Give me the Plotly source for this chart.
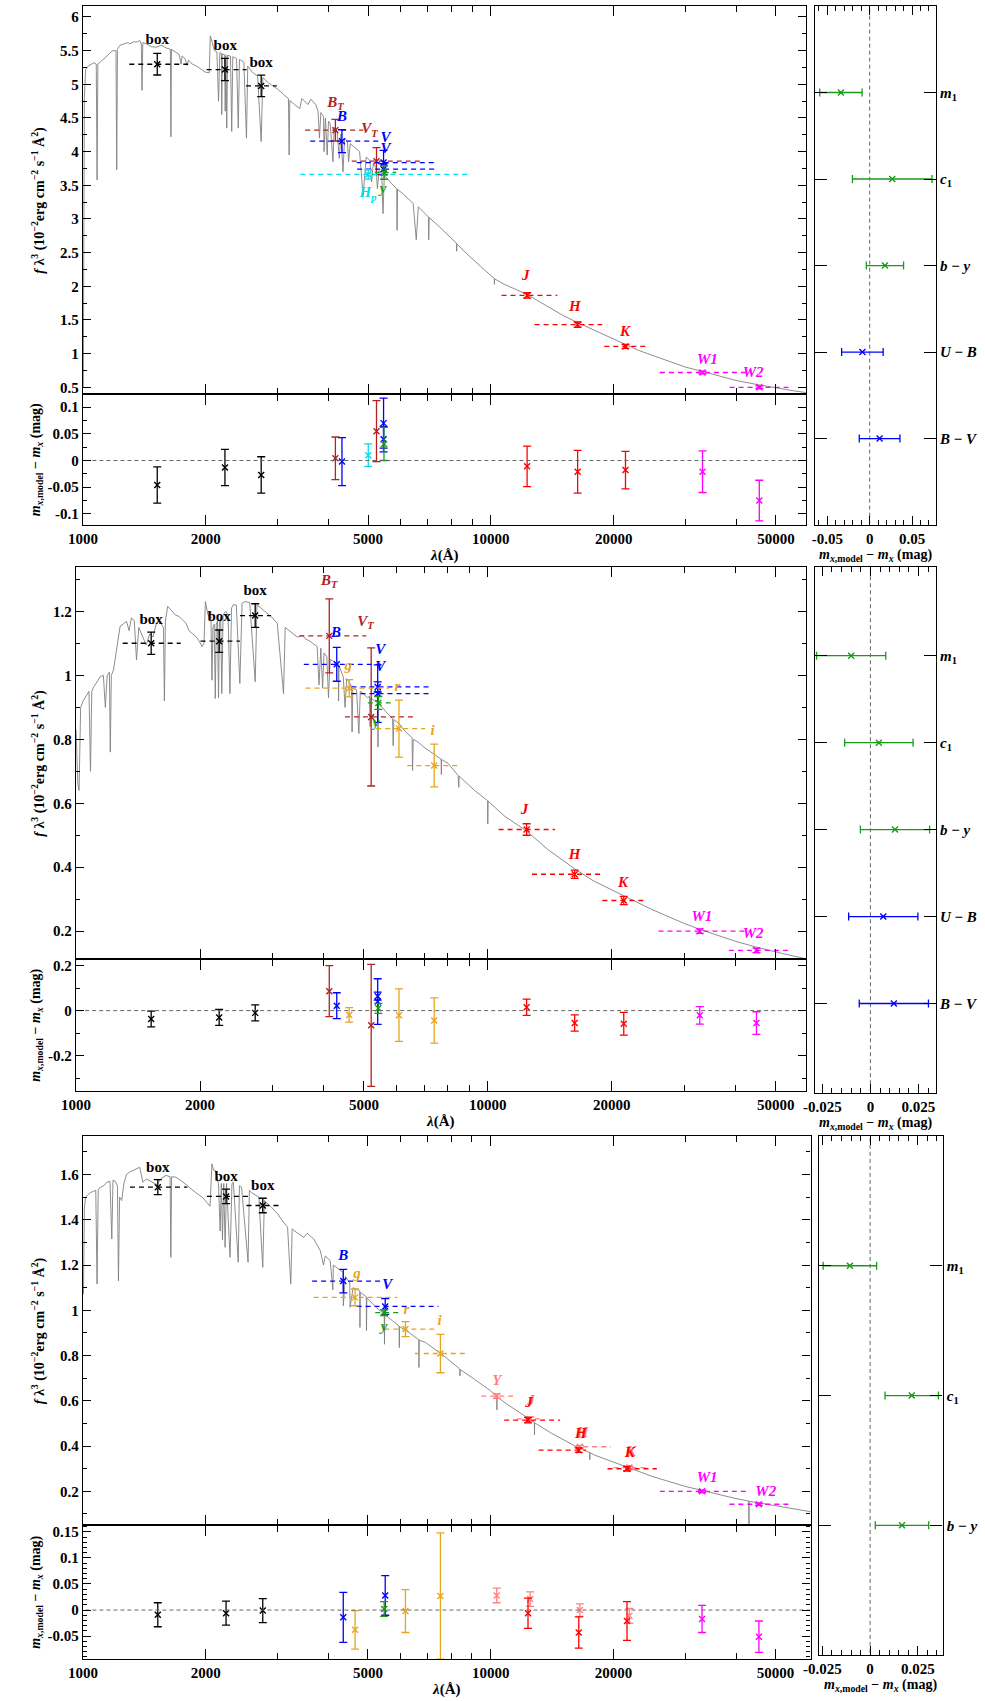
import plotly.graph_objects as go

# ===================== DATA =====================
# ---- Panel 1: model spectrum (wavelength in Angstrom, f*lambda^3) ----
wl1 = [
    1002, 1008, 1015, 1034, 1050, 1063, 1078, 1083, 1088, 1103,
    1130, 1145, 1166, 1185, 1205, 1210, 1215, 1233, 1260, 1290,
    1303, 1330, 1360, 1378, 1390, 1396, 1402, 1430, 1470, 1511,
    1560, 1600, 1638, 1643, 1648, 1690, 1722, 1740, 1750, 1780,
    1800, 1815, 1853, 1900, 1950, 1996, 2040, 2052, 2075, 2100,
    2130, 2150, 2165, 2185, 2189, 2196, 2225, 2232, 2242, 2252,
    2262, 2300, 2316, 2330, 2380, 2403, 2420, 2480, 2517, 2535,
    2600, 2680, 2735, 2760, 2850, 2930, 2999, 3100, 3190, 3202,
    3215, 3300, 3400, 3440, 3500, 3560, 3620, 3679, 3720, 3770,
    3800, 3830, 3889, 3900, 3930, 3970, 4000, 4036, 4102, 4130,
    4200, 4250, 4290, 4340, 4380, 4450, 4480, 4520, 4600, 4700,
    4766, 4861, 4950, 5050, 5100, 5150, 5233, 5270, 5320, 5400,
    5440, 5480, 5532, 5700, 5878, 5890, 5905, 6100, 6295, 6450,
    6563, 6640, 6900, 7030, 7040, 7060, 7400, 7580, 7800, 8000,
    8238, 8245, 8260, 8600, 9121, 9500, 10000, 10195, 10200, 10220,
    10780, 11500, 12270, 13000, 14000, 15000, 16320, 17000, 18000, 19500,
    21380, 23000, 25000, 28000, 30000, 33030, 36000, 40000, 45510, 50000,
    55000, 59500]
fl1 = [
    0.5, 4.8, 5.22, 5.28, 5.3, 5.32, 5.3, 3.58, 5.3, 5.33,
    5.38, 5.42, 5.47, 5.5, 5.5, 3.73, 5.52, 5.58, 5.6, 5.62,
    5.6, 5.63, 5.63, 5.65, 5.6, 4.91, 5.62, 5.6, 5.56, 5.55,
    5.58, 5.54, 5.52, 4.22, 5.52, 5.48, 5.44, 5.3, 5.42, 5.38,
    5.28, 5.36, 5.3, 5.27, 5.22, 5.18, 5.17, 5.72, 5.62, 5.5,
    5.48, 4.75, 5.47, 5.46, 4.55, 5.45, 5.44, 4.6, 5.43, 4.35,
    5.43, 5.42, 4.3, 5.41, 5.38, 4.35, 5.37, 5.33, 4.2, 5.27,
    5.18, 5.12, 4.15, 5.1, 5.02, 4.97, 4.93, 4.85, 4.79, 3.95,
    4.76, 4.7, 4.64, 4.79, 4.74, 4.7, 4.78, 4.74, 4.7, 4.6,
    4.2, 4.58, 4.52, 4.0, 4.5, 3.95, 4.45, 4.42, 3.85, 4.36,
    4.3, 3.9, 4.26, 3.7, 4.2, 4.15, 3.85, 4.12, 4.08, 4.03,
    4.0, 3.35, 3.92, 3.87, 3.55, 3.82, 3.76, 3.45, 3.72, 3.67,
    3.08, 3.64, 3.62, 3.53, 3.45, 2.83, 3.44, 3.37, 3.29, 3.23,
    2.69, 3.18, 3.08, 3.03, 2.69, 3.02, 2.91, 2.85, 2.78, 2.72,
    2.64, 2.52, 2.63, 2.52, 2.37, 2.28, 2.16, 2.12, 2.03, 2.11,
    2.03, 1.96, 1.88, 1.79, 1.67, 1.57, 1.46, 1.41, 1.34, 1.24,
    1.13, 1.05, 0.97, 0.86, 0.8, 0.735, 0.675, 0.6, 0.535, 0.49,
    0.45, 0.42]

# ---- Panel 1: photometry ----
sys1 = ['box', 'box', 'box', 'Tycho', 'Johnson', 'Hipparcos', 'Tycho', 'Johnson', 'Johnson',
        'Stromgren', '2MASS', '2MASS', '2MASS', 'WISE', 'WISE']
lam1 = [1521, 2229, 2735, 4158, 4315, 5005, 5244, 5457, 5457, 5470, 12270, 16320, 21380, 33030, 45510]
flux1 = [5.298, 5.219, 4.976, 4.318, 4.155, 3.661, 3.859, 3.838, 3.740, 3.690, 1.864, 1.430, 1.107, 0.720, 0.500]
ferr1 = [0.16, 0.165, 0.16, 0.16, 0.17, 0.07, 0.20, 0.18, 0.08, 0.10, 0.04, 0.04, 0.03, 0.02, 0.02]
wlo1 = [1299, 2010, 2510, 3505, 3607, 3410, 4560, 4690, 4700, 5190, 10620, 12800, 18970, 25960, 38480]
whi1 = [1811, 2518, 2987, 4865, 5410, 8810, 6730, 7280, 7280, 5860, 14550, 18750, 23990, 43370, 54810]
res1 = [-0.046, -0.013, -0.027, 0.004, -0.002, 0.010, 0.055, 0.070, 0.040, 0.031, -0.011, -0.021, -0.018, -0.021, -0.075]
reserr1 = [0.034, 0.034, 0.034, 0.040, 0.045, 0.021, 0.057, 0.047, 0.024, 0.031, 0.038, 0.040, 0.035, 0.039, 0.038]
lbtxt1 = ['box', 'box', 'box', 'BT', 'B', 'VT', 'V', 'V', 'Hp', 'y', 'J', 'H', 'K', 'W1', 'W2']
lbsys1 = ['box', 'box', 'box', 'Tycho', 'Johnson', 'Tycho', 'Johnson', 'Johnson', 'Hipparcos', 'Stromgren',
          '2MASS', '2MASS', '2MASS', 'WISE', 'WISE']
lbx1 = [1521, 2233, 2734, 4158, 4315, 5042, 5521, 5521, 5000, 5440, 12170, 16060, 21320, 33950, 43950]
lby1 = [5.654, 5.565, 5.31, 4.715, 4.517, 4.325, 4.206, 4.028, 3.376, 3.435, 2.153, 1.686, 1.316, 0.90, 0.707]
# colour residuals panel 1
cname1 = ['B−V', 'U−B', 'b−y', 'c1', 'm1']
csys1 = ['Johnson', 'Johnson', 'Stromgren', 'Stromgren', 'Stromgren']
cval1 = [0.0117, -0.0086, 0.018, 0.0266, -0.034]
cerr1 = [0.024, 0.0245, 0.022, 0.047, 0.025]

# ---- Panel 2: model spectrum ----
wl2 = [
    1000, 1010, 1017, 1022, 1026, 1040, 1055, 1075, 1084, 1092,
    1104, 1125, 1145, 1165, 1178, 1190, 1205, 1211, 1218, 1233,
    1255, 1279, 1300, 1326, 1345, 1363, 1385, 1402, 1420, 1454,
    1480, 1510, 1537, 1565, 1594, 1630, 1639, 1648, 1669, 1700,
    1740, 1780, 1820, 1850, 1880, 1915, 1960, 1995, 2023, 2045,
    2061, 2090, 2110, 2125, 2138, 2150, 2165, 2178, 2190, 2205,
    2218, 2230, 2245, 2259, 2275, 2310, 2340, 2364, 2385, 2409,
    2450, 2499, 2530, 2568, 2640, 2723, 2750, 2815, 2900, 2976,
    3080, 3190, 3220, 3300, 3444, 3550, 3600, 3707, 3850, 3890,
    3930, 3970, 4000, 4063, 4102, 4140, 4200, 4334, 4340, 4350,
    4455, 4500, 4540, 4600, 4665, 4680, 4700, 4800, 4861, 4900,
    4973, 5100, 5159, 5175, 5200, 5300, 5401, 5410, 5420, 5655,
    5870, 5890, 5910, 6083, 6300, 6547, 6563, 6590, 6792, 7000,
    7447, 7700, 7710, 7720, 8000, 8467, 8500, 8520, 9284, 9989,
    9995, 10010, 10950, 12420, 14000, 16250, 18000, 21380, 25000, 30000,
    33000, 40000, 45500, 52000, 59500]
fl2 = [
    0.83, 0.66, 0.64, 0.86, 0.9, 0.92, 0.933, 0.95, 0.70, 0.95,
    0.964, 0.98, 0.996, 1.0, 0.9, 1.0, 1.01, 0.76, 1.0, 1.017,
    1.09, 1.153, 1.16, 1.169, 1.14, 1.18, 1.17, 1.048, 1.15, 1.12,
    1.095, 1.13, 1.12, 1.16, 1.17, 1.15, 0.92, 1.17, 1.216, 1.205,
    1.19, 1.184, 1.17, 1.163, 1.14, 1.132, 1.12, 1.105, 1.09, 1.1,
    1.231, 1.19, 1.18, 1.2, 0.985, 1.15, 1.16, 0.928, 1.16, 1.17,
    0.93, 1.17, 1.18, 0.943, 1.19, 1.2, 1.19, 0.943, 1.21, 1.221,
    1.22, 0.975, 1.225, 1.231, 1.228, 0.98, 1.22, 1.21, 1.195, 1.184,
    1.163, 0.943, 1.15, 1.14, 1.12, 1.125, 1.115, 1.106, 1.09, 0.97,
    1.085, 0.96, 1.07, 1.059, 0.93, 1.05, 1.045, 1.035, 0.92, 1.03,
    0.996, 0.9, 0.99, 0.98, 0.964, 0.823, 0.96, 0.955, 0.818, 0.95,
    0.945, 0.93, 0.935, 0.84, 0.93, 0.92, 0.917, 0.776, 0.915, 0.886,
    0.865, 0.78, 0.862, 0.849, 0.825, 0.805, 0.703, 0.8, 0.79, 0.775,
    0.75, 0.738, 0.69, 0.737, 0.725, 0.687, 0.65, 0.685, 0.64, 0.608,
    0.535, 0.607, 0.561, 0.513, 0.455, 0.395, 0.358, 0.31, 0.268, 0.224,
    0.204, 0.168, 0.148, 0.13, 0.113]

# ---- Panel 2: photometry ----
sys2 = ['box', 'box', 'box', 'Tycho', 'Johnson', 'SDSS', 'Tycho', 'Johnson', 'Johnson', 'Stromgren',
        'SDSS', 'SDSS', '2MASS', '2MASS', '2MASS', 'WISE', 'WISE']
lam2 = [1522, 2226, 2723, 4120, 4296, 4605, 5208, 5401, 5401, 5420, 6083, 7408, 12420, 16250, 21380, 32700, 44900]
flux2 = [1.1005, 1.107, 1.187, 1.1236, 1.0346, 0.960, 0.870, 0.943, 0.964, 0.914, 0.8335, 0.718,
         0.518, 0.378, 0.296, 0.200, 0.140]
ferr2 = [0.035, 0.035, 0.037, 0.116, 0.053, 0.027, 0.216, 0.090, 0.016, 0.020, 0.089, 0.067,
         0.018, 0.013, 0.013, 0.007, 0.007]
wlo2 = [1298, 2005, 2500, 3485, 3573, 3606, 4497, 4665, 4665, 5112, 5354, 6373, 10620, 12800, 18970, 25960, 38480]
whi2 = [1795, 2500, 2976, 5070, 5499, 5757, 6673, 7241, 7241, 5810, 7046, 8468, 14550, 18750, 23990, 43370, 54810]
res2 = [-0.037, -0.030, -0.010, 0.086, 0.022, -0.019, -0.065, 0.040, 0.064, 0.010, -0.020, -0.044,
        0.015, -0.055, -0.058, -0.021, -0.055]
reserr2 = [0.035, 0.035, 0.035, 0.113, 0.057, 0.032, 0.270, 0.101, 0.018, 0.022, 0.116, 0.100,
           0.036, 0.036, 0.050, 0.039, 0.050]
lbtxt2 = ['box', 'box', 'box', 'BT', 'B', 'g', 'VT', 'V', 'V', 'y', 'r', 'i', 'J', 'H', 'K', 'W1', 'W2']
lbsys2 = ['box', 'box', 'box', 'Tycho', 'Johnson', 'SDSS', 'Tycho', 'Johnson', 'Johnson', 'Stromgren',
          'SDSS', 'SDSS', '2MASS', '2MASS', '2MASS', 'WISE', 'WISE']
lbx2 = [1522, 2226, 2723, 4120, 4279, 4580, 5047, 5482, 5482, 5354, 6031, 7339, 12280, 16250, 21290, 33080, 44060]
lby2 = [1.174, 1.182, 1.263, 1.294, 1.132, 1.029, 1.166, 1.080, 1.027, 0.850, 0.962, 0.826,
        0.579, 0.436, 0.351, 0.245, 0.190]
cname2 = ['B−V', 'U−B', 'b−y', 'c1', 'm1']
csys2 = ['Johnson', 'Johnson', 'Stromgren', 'Stromgren', 'Stromgren']
cval2 = [0.0122, 0.0067, 0.0128, 0.0044, -0.010]
cerr2 = [0.018, 0.018, 0.018, 0.0178, 0.018]

# ---- Panel 3: model spectrum ----
wl3 = [
    1003, 1008, 1015, 1043, 1075, 1083, 1090, 1103, 1125, 1145,
    1165, 1177, 1185, 1200, 1215, 1222, 1230, 1245, 1260, 1279,
    1300, 1327, 1350, 1378, 1390, 1403, 1430, 1484, 1520, 1550,
    1598, 1636, 1643, 1650, 1690, 1750, 1820, 1890, 1960, 2000,
    2034, 2050, 2072, 2090, 2111, 2150, 2170, 2185, 2199, 2215,
    2232, 2250, 2295, 2320, 2338, 2404, 2420, 2449, 2541, 2560,
    2588, 2700, 2761, 2786, 2900, 3003, 3100, 3176, 3234, 3260,
    3294, 3482, 3550, 3600, 3681, 3750, 3821, 3890, 3930, 4040,
    4102, 4113, 4250, 4348, 4352, 4400, 4514, 4520, 4600, 4773,
    4780, 4790, 4954, 4960, 4970, 5236, 5483, 5490, 5500, 5741,
    5963, 5970, 5980, 6302, 6664, 6670, 6680, 6918, 7586, 8318,
    8400, 8410, 8420, 9132, 10016, 10350, 10360, 10370, 10990, 12400,
    12800, 12810, 12820, 14000, 16500, 17500, 17510, 17520, 18000, 21800,
    25000, 30000, 33000, 40000, 43000, 43010, 43020, 45500, 52000, 61000]
fl3 = [
    1.07, 1.45, 1.5, 1.52, 1.53, 1.116, 1.53, 1.544, 1.55, 1.566,
    1.57, 1.315, 1.575, 1.57, 1.55, 1.13, 1.5, 1.485, 1.56, 1.6,
    1.61, 1.618, 1.625, 1.632, 1.6, 1.566, 1.58, 1.566, 1.555, 1.58,
    1.596, 1.59, 1.234, 1.59, 1.588, 1.57, 1.544, 1.52, 1.5, 1.48,
    1.463, 1.46, 1.647, 1.62, 1.618, 1.56, 1.35, 1.56, 1.31, 1.56,
    1.278, 1.56, 1.234, 1.56, 1.566, 1.212, 1.55, 1.544, 1.212, 1.53,
    1.52, 1.5, 1.19, 1.485, 1.455, 1.426, 1.39, 1.367, 1.116, 1.36,
    1.352, 1.322, 1.34, 1.33, 1.315, 1.29, 1.263, 1.2, 1.24, 1.219,
    1.09, 1.2, 1.18, 1.167, 1.02, 1.15, 1.12, 1.013, 1.1, 1.086,
    0.924, 1.08, 1.06, 0.91, 1.055, 1.013, 0.983, 0.85, 0.98, 0.954,
    0.93, 0.835, 0.928, 0.902, 0.87, 0.747, 0.868, 0.858, 0.806, 0.747,
    0.74, 0.71, 0.738, 0.695, 0.643, 0.62, 0.56, 0.618, 0.584, 0.52,
    0.505, 0.45, 0.503, 0.46, 0.39, 0.372, 0.34, 0.371, 0.36, 0.303,
    0.265, 0.222, 0.203, 0.168, 0.157, 0.05, 0.156, 0.149, 0.13, 0.11]

# ---- Panel 3: photometry ----
sys3 = ['box', 'box', 'box', 'Johnson', 'SDSS', 'Johnson', 'Stromgren', 'SDSS', 'SDSS', 'UKIDSS',
        '2MASS', 'UKIDSS', '2MASS', 'UKIDSS', '2MASS', 'UKIDSS', 'WISE', 'WISE']
lam3 = [1526, 2244, 2761, 4350, 4650, 5513, 5480, 6180, 7530, 10350, 12350, 12500, 16450, 16550,
        21600, 21900, 33000, 45500]
flux3 = [1.544, 1.503, 1.463, 1.129, 1.057, 1.017, 0.990, 0.917, 0.809, 0.621, 0.515, 0.520, 0.382, 0.397,
         0.300, 0.305, 0.200, 0.143]
ferr3 = [0.033, 0.032, 0.032, 0.052, 0.037, 0.035, 0.013, 0.033, 0.085, 0.010, 0.012, 0.008, 0.010, 0.006,
         0.010, 0.005, 0.005, 0.005]
wlo3 = [1304, 2014, 2518, 3648, 3680, 4690, 5210, 5485, 6516, 9478, 10790, 11600, 13110, 16030,
        19350, 20000, 26000, 38500]
whi3 = [1803, 2540, 3030, 5432, 5903, 7450, 5960, 7310, 8710, 11510, 14800, 13300, 17140, 19720,
        25560, 24000, 43000, 54800]
res3 = [-0.009, -0.006, -0.001, -0.014, -0.038, 0.028, 0.002, -0.002, 0.027, 0.028, -0.006, 0.021,
        -0.043, 0.000, -0.021, -0.011, -0.017, -0.051]
reserr3 = [0.023, 0.023, 0.023, 0.048, 0.037, 0.038, 0.014, 0.041, 0.121, 0.014, 0.029, 0.014,
           0.030, 0.012, 0.037, 0.014, 0.026, 0.030]
lbtxt3 = ['box', 'box', 'box', 'B', 'g', 'V', 'y', 'r', 'i', 'Y', 'J', 'J', 'H', 'H', 'K', 'K', 'W1', 'W2']
lbsys3 = ['box', 'box', 'box', 'Johnson', 'SDSS', 'Johnson', 'Stromgren', 'SDSS', 'SDSS', 'UKIDSS',
          'UKIDSS', '2MASS', 'UKIDSS', '2MASS', 'UKIDSS', '2MASS', 'WISE', 'WISE']
lbx3 = [1526, 2244, 2761, 4350, 4700, 5581, 5480, 6212, 7500, 10350, 12560, 12420, 16800, 16650,
        22100, 21950, 33960, 47300]
lby3 = [1.628, 1.588, 1.548, 1.237, 1.157, 1.111, 0.927, 0.998, 0.950, 0.688, 0.596, 0.590,
        0.458, 0.452, 0.374, 0.368, 0.256, 0.198]
cname3 = ['b−y', 'c1', 'm1']
csys3 = ['Stromgren', 'Stromgren', 'Stromgren']
cval3 = [0.0167, 0.0218, -0.0106]
cerr3 = [0.014, 0.014, 0.014]

# ---- tick labels ----
xmajor = [1000, 2000, 5000, 10000, 20000, 50000]
xminor = [3000, 4000, 6000, 7000, 8000, 9000, 30000, 40000]
ytick_main1 = [0.5, 1, 1.5, 2, 2.5, 3, 3.5, 4, 4.5, 5, 5.5, 6]
ytick_main2 = [0.2, 0.4, 0.6, 0.8, 1, 1.2]
ytick_main3 = [0.2, 0.4, 0.6, 0.8, 1, 1.2, 1.4, 1.6]
ytick_res1 = [-0.1, -0.05, 0, 0.05, 0.1]
ytick_res2 = [-0.2, 0, 0.2]
ytick_res3 = [-0.05, 0, 0.05, 0.1, 0.15]
xtick_col1 = [-0.05, 0, 0.05]
xtick_col2 = [-0.025, 0, 0.025]
xtick_col3 = [-0.025, 0, 0.025]

for a, b in [(wl1, fl1), (wl2, fl2), (wl3, fl3)]:
    assert len(a) == len(b), (len(a), len(b))

# ===================== STYLE / LAYOUT =====================
W, H = 985, 1701
FONT = "Liberation Serif"
COLORS = {'box': '#000000', 'Tycho': '#b22222', 'Johnson': '#0000ff', 'Hipparcos': '#00e0ea',
          'Stromgren': '#1a9a1a', 'SDSS': '#e6a520', '2MASS': '#ff0000', 'UKIDSS': '#ff8080',
          'WISE': '#ff00ff'}
LABEL_HTML = {'box': '<b>box</b>', 'BT': '<b><i>B</i><sub><i>T</i></sub></b>',
              'VT': '<b><i>V</i><sub><i>T</i></sub></b>', 'Hp': '<b><i>H</i><sub><i>p</i></sub></b>',
              'W1': '<b><i>W1</i></b>', 'W2': '<b><i>W2</i></b>'}
CNAME_HTML = {'B−V': '<b><i>B</i> − <i>V</i></b>', 'U−B': '<b><i>U</i> − <i>B</i></b>',
              'b−y': '<b><i>b</i> − <i>y</i></b>', 'c1': '<b><i>c</i><sub>1</sub></b>',
              'm1': '<b><i>m</i><sub>1</sub></b>'}

# pixel geometry of each panel group
GEOM = [
    dict(left=69, right=803, top=4, div=393, bot=524, rl=812, rr=935, rtop=4, rbot=524,
         xr=[3, 4.772], ym=[0.396, 6.163], yr=[-0.121, 0.124], cx=[-0.065, 0.078], cy=[0, 6],
         ymt=ytick_main1, ymm=0.25, yrt=ytick_res1, yrm=0.025, cxt=xtick_col1, cxm=0.01),
    dict(left=62, right=803, top=566, div=959, bot=1091, rl=812, rr=935, rtop=566, rbot=1093,
         xr=[3, 4.772], ym=[0.112, 1.339], yr=[-0.356, 0.227], cx=[-0.029, 0.034], cy=[-0.03, 6.02],
         ymt=ytick_main2, ymm=0.1, yrt=ytick_res2, yrm=0.1, cxt=xtick_col2, cxm=0.005),
    dict(left=69, right=808, top=1136, div=1526, bot=1660, rl=816, rr=942, rtop=1136, rbot=1656,
         xr=[3, 4.785], ym=[0.05, 1.77], yr=[-0.094, 0.1625], cx=[-0.027, 0.038], cy=[0, 4],
         ymt=ytick_main3, ymm=0.1, yrt=ytick_res3, yrm=0.01, cxt=xtick_col3, cxm=0.005),
]

PANELS = [
    (wl1, fl1, sys1, lam1, flux1, ferr1, wlo1, whi1, res1, reserr1, lbtxt1, lbsys1, lbx1, lby1,
     cname1, csys1, cval1, cerr1),
    (wl2, fl2, sys2, lam2, flux2, ferr2, wlo2, whi2, res2, reserr2, lbtxt2, lbsys2, lbx2, lby2,
     cname2, csys2, cval2, cerr2),
    (wl3, fl3, sys3, lam3, flux3, ferr3, wlo3, whi3, res3, reserr3, lbtxt3, lbsys3, lbx3, lby3,
     cname3, csys3, cval3, cerr3),
]


def axid(n, c):
    return c if n == 1 else f'{c}{n}'


def axkey(n, c):
    return f'{c}axis' if n == 1 else f'{c}axis{n}'


def px_x(p):
    return p / W


def px_y(p):
    return 1 - p / H


def fmt(v):
    return f'{v:g}'


fig = go.Figure()
layout_axes = {}
annotations = []

tickfont = dict(family=FONT, size=15, color='black')
base = dict(showgrid=False, zeroline=False, showline=True, linecolor='black', linewidth=1.4,
            mirror='allticks', ticks='inside', tickcolor='black', tickwidth=1.2, tickfont=tickfont)

for k, (g, pdata) in enumerate(zip(GEOM, PANELS)):
    (wl, fl, sy, lam, flux, ferr, wlo, whi, res, reserr, lbtxt, lbsys, lbx, lby,
     cname, csys, cval, cerr) = pdata
    nm, nr, nc = 3 * k + 1, 3 * k + 2, 3 * k + 3
    xm, ym_, xr_, yr_, xc, yc = (axid(nm, 'x'), axid(nm, 'y'), axid(nr, 'x'), axid(nr, 'y'),
                                 axid(nc, 'x'), axid(nc, 'y'))

    # spectrum
    fig.add_trace(go.Scatter(x=wl, y=fl, mode='lines', line=dict(color='#808080', width=0.9),
                             xaxis=xm, yaxis=ym_, hoverinfo='skip'))
    order = []
    for s in sy:
        if s not in order:
            order.append(s)
    for s in order:
        idx = [i for i, v in enumerate(sy) if v == s]
        c = COLORS[s]
        dx, dy = [], []
        for i in idx:
            dx += [wlo[i], whi[i], None]
            dy += [flux[i], flux[i], None]
        fig.add_trace(go.Scatter(x=dx, y=dy, mode='lines', line=dict(color=c, width=1.3, dash='5px,4px'),
                                 xaxis=xm, yaxis=ym_, hoverinfo='skip'))
        fig.add_trace(go.Scatter(x=[lam[i] for i in idx], y=[flux[i] for i in idx], mode='markers',
                                 marker=dict(symbol='x-thin', size=6, line=dict(color=c, width=1.4)),
                                 error_y=dict(type='data', array=[ferr[i] for i in idx], color=c,
                                              thickness=1.3, width=4),
                                 xaxis=xm, yaxis=ym_, hoverinfo='skip'))
        fig.add_trace(go.Scatter(x=[lam[i] for i in idx], y=[res[i] for i in idx], mode='markers',
                                 marker=dict(symbol='x-thin', size=6, line=dict(color=c, width=1.4)),
                                 error_y=dict(type='data', array=[reserr[i] for i in idx], color=c,
                                              thickness=1.3, width=4),
                                 xaxis=xr_, yaxis=yr_, hoverinfo='skip'))
    # labels
    fig.add_trace(go.Scatter(x=lbx, y=lby, mode='text',
                             text=[LABEL_HTML.get(t, f'<b><i>{t}</i></b>') for t in lbtxt],
                             textfont=dict(family=FONT, size=15, color=[COLORS[s] for s in lbsys]),
                             xaxis=xm, yaxis=ym_, hoverinfo='skip'))
    # zero line in residuals
    fig.add_trace(go.Scatter(x=[800, 80000], y=[0, 0], mode='lines',
                             line=dict(color='#666666', width=1, dash='4px,3px'),
                             xaxis=xr_, yaxis=yr_, hoverinfo='skip'))
    # colour panel
    fig.add_trace(go.Scatter(x=[0, 0], y=[-5, 10], mode='lines',
                             line=dict(color='#666666', width=1, dash='4px,3px'),
                             xaxis=xc, yaxis=yc, hoverinfo='skip'))
    pos = list(range(1, len(cname) + 1))
    for s in dict.fromkeys(csys):
        idx = [i for i, v in enumerate(csys) if v == s]
        c = COLORS[s]
        fig.add_trace(go.Scatter(x=[cval[i] for i in idx], y=[pos[i] for i in idx], mode='markers',
                                 marker=dict(symbol='x-thin', size=6, line=dict(color=c, width=1.4)),
                                 error_x=dict(type='data', array=[cerr[i] for i in idx], color=c,
                                              thickness=1.3, width=4),
                                 xaxis=xc, yaxis=yc, hoverinfo='skip'))

    # ---------- axes ----------
    xdom = [px_x(g['left']), px_x(g['right'])]
    layout_axes[axkey(nm, 'x')] = dict(base, type='log', range=g['xr'], domain=xdom, anchor=ym_,
                                       tickmode='array', tickvals=xmajor, ticklen=10,
                                       showticklabels=False,
                                       minor=dict(tickvals=xminor, ticklen=6, ticks='inside',
                                                  tickcolor='black', tickwidth=1.0))
    layout_axes[axkey(nm, 'y')] = dict(base, range=g['ym'], domain=[px_y(g['div']), px_y(g['top'])],
                                       anchor=xm, tickmode='array', tickvals=g['ymt'],
                                       ticktext=[f'<b>{fmt(v)}</b>' for v in g['ymt']], ticklen=8,
                                       minor=dict(dtick=g['ymm'], tick0=0, ticklen=4, ticks='inside',
                                                  tickcolor='black'))
    layout_axes[axkey(nr, 'x')] = dict(base, type='log', range=g['xr'], domain=xdom, anchor=yr_,
                                       tickmode='array', tickvals=xmajor,
                                       ticktext=[f'<b>{v}</b>' for v in xmajor], ticklen=10,
                                       minor=dict(tickvals=xminor, ticklen=6, ticks='inside',
                                                  tickcolor='black', tickwidth=1.0))
    layout_axes[axkey(nr, 'y')] = dict(base, range=g['yr'], domain=[px_y(g['bot']), px_y(g['div'])],
                                       anchor=xr_, tickmode='array', tickvals=g['yrt'],
                                       ticktext=[f'<b>{fmt(v)}</b>' for v in g['yrt']], ticklen=8,
                                       minor=dict(dtick=g['yrm'], tick0=0, ticklen=4, ticks='inside',
                                                  tickcolor='black'))
    layout_axes[axkey(nc, 'x')] = dict(base, range=g['cx'], domain=[px_x(g['rl']), px_x(g['rr'])],
                                       anchor=yc, tickmode='array', tickvals=g['cxt'],
                                       ticktext=[f'<b>{fmt(v)}</b>' for v in g['cxt']], ticklen=9,
                                       minor=dict(dtick=g['cxm'], tick0=0, ticklen=5, ticks='inside',
                                                  tickcolor='black'))
    layout_axes[axkey(nc, 'y')] = dict(base, range=g['cy'], domain=[px_y(g['rbot']), px_y(g['rtop'])],
                                       anchor=xc, side='right', mirror='ticks', tickmode='array',
                                       tickvals=pos, ticktext=[CNAME_HTML[n] for n in cname],
                                       ticklen=12, tickwidth=1.3,
                                       tickfont=dict(family=FONT, size=15, color='black'))

    # ---------- titles ----------
    afont = dict(family=FONT, size=14, color='black')
    common = dict(xref='paper', yref='paper', showarrow=False, xanchor='center', yanchor='middle')
    annotations.append(dict(common, x=px_x(24), y=px_y((g['top'] + g['div']) / 2),
                            text='<b><i>f</i> λ<sup>3</sup> (10<sup>−2</sup>erg cm<sup>−2</sup> '
                                 's<sup>−1</sup> Å<sup>2</sup>)</b>',
                            textangle=-90, font=afont))
    annotations.append(dict(common, x=px_x(22), y=px_y((g['div'] + g['bot']) / 2),
                            text='<b><i>m</i><sub><i>x</i>,model</sub> − <i>m</i><sub><i>x</i></sub> (mag)</b>',
                            textangle=-90, font=afont))
    annotations.append(dict(common, x=px_x((g['left'] + g['right']) / 2),
                            y=px_y(g['bot'] + 30), text='<b><i>λ</i>(Å)</b>',
                            font=dict(family=FONT, size=15, color='black')))
    annotations.append(dict(common, x=px_x((g['rl'] + g['rr']) / 2),
                            y=px_y(g['rbot'] + 30),
                            text='<b><i>m</i><sub><i>x</i>,model</sub> − <i>m</i><sub><i>x</i></sub> (mag)</b>',
                            font=afont))

fig.update_layout(width=W, height=H, margin=dict(l=0, r=0, t=0, b=0), showlegend=False,
                  plot_bgcolor='white', paper_bgcolor='white', annotations=annotations,
                  **layout_axes)

fig.write_html("out.html", config={'displayModeBar': False},
               post_script="document.body.style.margin='0';")
